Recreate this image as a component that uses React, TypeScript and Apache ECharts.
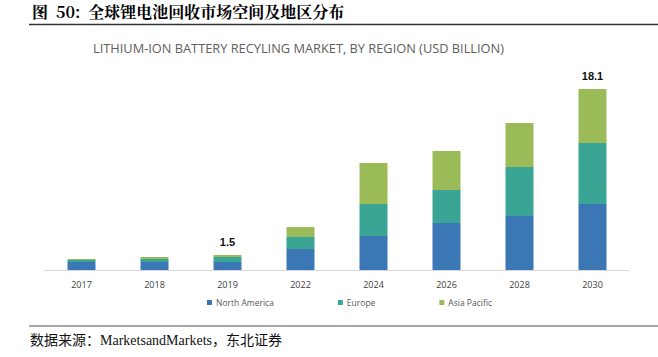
import React, { useEffect, useRef } from "react";
import * as echarts from "echarts";

const years = ["2017", "2018", "2019", "2022", "2024", "2026", "2028", "2030"];
const northAmerica = [0.8, 0.8, 0.8, 2.1, 3.4, 4.7, 5.4, 6.6];
const europe = [0.2, 0.3, 0.5, 1.2, 3.2, 3.3, 4.9, 6.1];
const asiaPacific = [0.1, 0.2, 0.2, 1.0, 4.1, 3.9, 4.4, 5.4];
const labelledYears = ["2019", "2030"];

const headerText = "图  50:  全球锂电池回收市场空间及地区分布";
const chartTitle = "LITHIUM-ION BATTERY RECYLING MARKET, BY REGION (USD BILLION)";
const sourceText = "数据来源：MarketsandMarkets，东北证券";

export default function App() {
  const ref = useRef<HTMLDivElement>(null);
  useEffect(() => {
    if (!ref.current) return;
    const chart = echarts.init(ref.current, null, { renderer: "svg" });
    const totals = years.map((_, i) => northAmerica[i] + europe[i] + asiaPacific[i]);
    const apData = asiaPacific.map((v, i) => {
      if (labelledYears.includes(years[i])) {
        return {
          value: v,
          label: {
            show: true,
            position: "top",
            distance: 8,
            formatter: () => totals[i].toFixed(1),
            color: "#111",
            fontWeight: "bold",
            fontSize: 11,
            fontFamily: "Liberation Sans",
          },
        };
      }
      return v;
    });
    chart.setOption({
      animation: false,
      backgroundColor: "#fff",
      graphic: [
        {
          type: "text",
          left: 32,
          top: 3,
          style: {
            text: headerText,
            font: "bold 16px 'Noto Serif CJK SC', 'Noto Sans CJK SC', serif",
            fill: "#000",
          },
        },
        {
          type: "line",
          shape: { x1: 29, y1: 24.5, x2: 658, y2: 24.5 },
          style: { stroke: "#333", lineWidth: 1.5 },
        },
        {
          type: "text",
          left: 93,
          top: 41,
          style: {
            text: chartTitle,
            font: "12.8px 'Liberation Sans Narrow', 'Open Sans', sans-serif",
            fill: "#606060",
          },
        },
        {
          type: "line",
          shape: { x1: 29, y1: 326, x2: 658, y2: 326 },
          style: { stroke: "#888", lineWidth: 1.5 },
        },
        {
          type: "text",
          left: 30,
          top: 333,
          style: {
            text: sourceText,
            font: "14px 'Liberation Serif', 'Noto Sans CJK SC', serif",
            fill: "#111",
          },
        },
      ],
      legend: {
        data: ["North America", "Europe", "Asia Pacific"],
        left: 202,
        top: 293,
        itemWidth: 5,
        itemHeight: 5,
        itemGap: 64,
        icon: "rect",
        textStyle: { fontSize: 8.5, color: "#595959", fontFamily: "Open Sans", padding: [0, 0, 0, -1] },
      },
      grid: { left: 45, right: 29, top: 70, bottom: 87 },
      xAxis: {
        type: "category",
        data: years,
        axisLine: { lineStyle: { color: "#d9d9d9" } },
        axisTick: { show: false },
        axisLabel: { color: "#404040", fontSize: 9, margin: 10, fontFamily: "Open Sans" },
      },
      yAxis: { type: "value", min: 0, max: 20, show: false, splitLine: { show: false } },
      series: [
        { name: "North America", type: "bar", stack: "t", data: northAmerica, barWidth: 28, itemStyle: { color: "#3b77b5" } },
        { name: "Europe", type: "bar", stack: "t", data: europe, barWidth: 28, itemStyle: { color: "#3aa495" } },
        { name: "Asia Pacific", type: "bar", stack: "t", data: apData, barWidth: 28, itemStyle: { color: "#9bbb59" } },
      ],
    });
    return () => chart.dispose();
  }, []);
  return <div ref={ref} style={{ width: 658, height: 357, position: "absolute", left: 0, top: 0 }} />;
}
